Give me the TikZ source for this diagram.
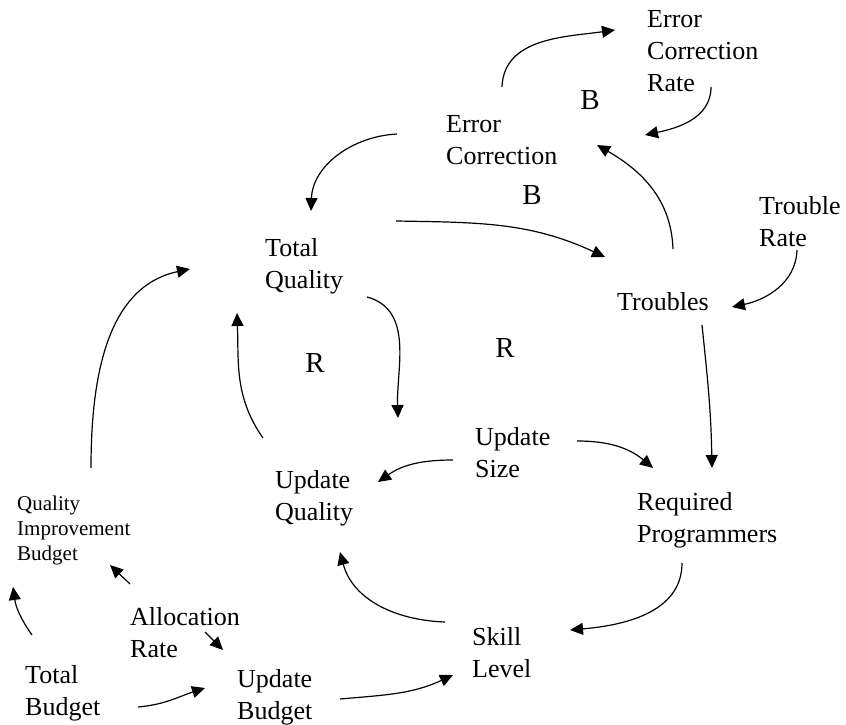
\documentclass[tikz,border=0pt]{standalone}
\usepackage{fontspec}
\setmainfont{Liberation Serif}
\usetikzlibrary{arrows.meta}
\begin{document}
\begin{tikzpicture}[x=1pt,y=1pt,
  lbl/.style={anchor=base west,inner sep=0pt,align=left,
    font=\fontsize{26}{32}\selectfont},
  lblsmall/.style={anchor=base west,inner sep=0pt,align=left,
    font=\fontsize{21}{25}\selectfont},
  looptag/.style={inner sep=0pt,font=\fontsize{29}{32}\selectfont},
  arr/.style={line width=1.2pt,-{Triangle[length=13pt,width=12pt]}}]
\useasboundingbox (0,0) rectangle (846,724);

% variables (base anchor = baseline of the last line)
\node[lbl] (ecr) at (647,632) {Error\\Correction\\Rate};
\node[lbl] (ec)  at (446,559) {Error\\Correction};
\node[lbl] (tq)  at (265,435) {Total\\Quality};
\node[lbl] (tr)  at (759,477) {Trouble\\Rate};
\node[lbl] (tro) at (617,413) {Troubles};
\node[lbl] (us)  at (475,247) {Update\\Size};
\node[lbl] (uq)  at (275,204) {Update\\Quality};
\node[lbl] (rp)  at (637,182) {Required\\Programmers};
\node[lblsmall] (qib) at (17,164) {Quality\\Improvement\\Budget};
\node[lbl] (ar)  at (130,67) {Allocation\\Rate};
\node[lbl] (sl)  at (472,47) {Skill\\Level};
\node[lbl] (tb)  at (25,9) {Total\\Budget};
\node[lbl] (ub)  at (237,5) {Update\\Budget};

% loop polarity markers
\node[looptag] (b1) at (590,624) {B};
\node[looptag] (b2) at (532,529) {B};
\node[looptag] (r1) at (315,361) {R};
\node[looptag] (r2) at (505,376) {R};

% balancing loops
\draw[arr] ([shift={(56,78)}]ec.base west) to[out=88,in=188] ([shift={(-32,62)}]ecr.base west);
\draw[arr] ([shift={(64,5)}]ecr.base west) to[out=-90,in=12] ([shift={(199,30)}]ec.base west);
\draw[arr] ([shift={(56,62)}]tro.base west) to[out=92,in=-30] ([shift={(151,20)}]ec.base west);
\draw[arr] ([shift={(-49,31)}]ec.base west) to[out=183,in=88] ([shift={(46,78)}]tq.base west);
\draw[arr] ([shift={(131,68)}]tq.base west) to[out=-1,in=155] ([shift={(-12,54)}]tro.base west);
\draw[arr] ([shift={(38,-3)}]tr.base west) to[out=-92,in=12] ([shift={(115,4)}]tro.base west);
\draw[arr] ([shift={(85,-14)}]tro.base west) to[out=-84,in=91] ([shift={(75,74)}]rp.base west);

% reinforcing loops
\draw[arr] ([shift={(102,-8)}]tq.base west) to[out=-15,in=92] ([shift={(-77,59)}]us.base west);
\draw[arr] ([shift={(-12,82)}]uq.base west) to[out=125,in=-88] ([shift={(-28,-24)}]tq.base west);
\draw[arr] ([shift={(-22,17)}]us.base west) to[out=180,in=35] ([shift={(103,38)}]uq.base west);
\draw[arr] ([shift={(102,36)}]us.base west) to[out=0,in=140] ([shift={(16,74)}]rp.base west);
\draw[arr] ([shift={(45,-21)}]rp.base west) to[out=-90,in=5] ([shift={(98,47)}]sl.base west);
\draw[arr] ([shift={(-27,55)}]sl.base west) to[out=178,in=-75] ([shift={(65,-32)}]uq.base west);

% budget flows
\draw[arr] ([shift={(103,20)}]ub.base west) to[out=5,in=205] ([shift={(-19,2)}]sl.base west);
\draw[arr] ([shift={(113,8)}]tb.base west) to[out=5,in=198] ([shift={(-32,31)}]ub.base west);
\draw[arr] ([shift={(7,80)}]tb.base west) to[out=125,in=-82] ([shift={(-4,-27)}]qib.base west);
\draw[arr] ([shift={(0,73)}]ar.base west) -- ([shift={(93,-5)}]qib.base west);
\draw[arr] ([shift={(75,25)}]ar.base west) -- ([shift={(-14,69)}]ub.base west);
\draw[arr] ([shift={(74,92)}]qib.base west) to[out=90,in=192] ([shift={(-75,20)}]tq.base west);
\end{tikzpicture}
\end{document}
